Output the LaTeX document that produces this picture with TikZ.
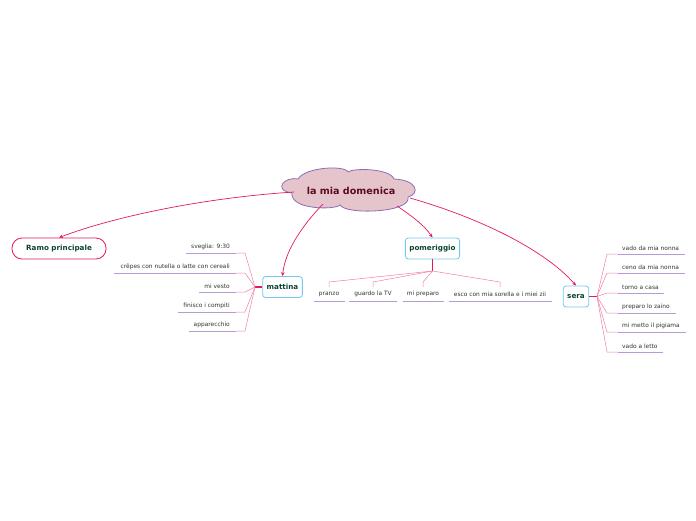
\documentclass[tikz,border=0pt]{standalone}
\usepackage{fontspec}
\setmainfont{DejaVu Sans}
\usetikzlibrary{arrows.meta}
\definecolor{cloudfill}{HTML}{E5C5CB}
\definecolor{cloudborder}{HTML}{8E6DB8}
\definecolor{cloudtext}{HTML}{5A0A22}
\definecolor{mainline}{HTML}{E2195F}
\definecolor{boxborder}{HTML}{72C8EE}
\definecolor{boxtext}{HTML}{0C4434}
\definecolor{subline}{HTML}{F27DA3}
\definecolor{uline}{HTML}{B59CD6}
\tikzset{
  mainarrow/.style={draw=mainline, line width=0.7pt, -{Stealth[length=4pt,width=3.5pt]}},
  topicbox/.style={draw=boxborder, line width=0.8pt, rounded corners=3pt, fill=white,
    text=boxtext, font=\fontsize{7.2}{8}\selectfont\bfseries, inner xsep=4pt, minimum height=21pt},
  itemtext/.style={font=\fontsize{5.9}{6.5}\selectfont, text=black!80, inner sep=1pt},
  subconn/.style={draw=subline, line width=0.5pt},
  stub/.style={draw=mainline, line width=1.6pt},
  underl/.style={draw=uline, line width=1pt},
}
\begin{document}
\begin{tikzpicture}[x=1pt,y=-1pt]
\useasboundingbox (0,0) rectangle (696,520);
% central cloud
\draw[draw=cloudborder, line width=0.8pt, fill=cloudfill]
  (298,179) .. controls (305,167) and (345,165) .. (348,172)
  .. controls (352,168) and (390,168) .. (394,179)
  .. controls (418,180) and (420,194) .. (408,197)
  .. controls (412,213) and (345,215) .. (340,205)
  .. controls (335,210) and (290,210) .. (292,193)
  .. controls (272,190) and (285,176) .. (298,179) -- cycle;
\node[text=cloudtext, font=\fontsize{9.6}{10}\selectfont\bfseries, inner sep=1pt] (root) at (351,191) {la mia domenica};
% topics
\node[draw=mainline, line width=0.8pt, rounded corners=10pt, minimum width=94pt, minimum height=21pt,
  text=boxtext, font=\fontsize{7.2}{8}\selectfont\bfseries] (ramo) at (59,248.5) {Ramo principale};
\node[topicbox] (mat) at (282.5,287) {mattina};
\node[topicbox] (pom) at (432.5,248.5) {pomeriggio};
\node[topicbox] (sera) at (576,296.5) {sera};
% main connectors
\coordinate (r1) at (294,192);
\coordinate (r2) at (323,204);
\coordinate (r3) at (397,206);
\coordinate (r4) at (410,198);
\draw[mainarrow] (r1) .. controls (200,198) and (110,218) .. (ramo.north);
\draw[mainarrow] (r2) .. controls (300,228) and (285,252) .. (mat.north);
\draw[mainarrow] (r3) .. controls (412,216) and (425,226) .. (pom.north);
\draw[mainarrow] (r4) .. controls (480,218) and (545,250) .. (sera.north);

% ---------- mattina ----------
\coordinate (mh) at (255,287);
\draw[stub] (mat.west) -- (mh);
\foreach \n/\t/\y/\ul in {1/{sveglia: 9:30}/253/186, 2/{crêpes con nutella o latte con cereali}/273/114, 3/{mi vesto}/292/199, 4/{finisco i compiti}/312/178, 5/{apparecchio}/331/189}{
  \node[itemtext, anchor=south east] (m\n) at (231,\y-2) {\t};
  \coordinate (mu\n) at (\ul,\y);
  \coordinate (me\n) at (236,\y);
  \coordinate (mk\n) at (245,\y);
  \draw[underl] (mu\n) -- (me\n);
  \draw[subconn] (me\n) -- (mk\n) -- (mh);
}

% ---------- pomeriggio ----------
\coordinate (ph) at (432.5,271);
\draw[stub] (pom.south) -- (ph);
\foreach \n/\t/\x/\a/\b in {1/{pranzo}/329/314/345, 2/{guardo la TV}/373/349/397, 3/{mi preparo}/423/403/444, 4/{esco con mia sorella e i miei zii}/500/449/552}{
  \node[itemtext] (p\n) at (\x,294) {\t};
  \coordinate (pk\n) at (\x,282);
  \coordinate (pt\n) at (\x,287);
  \coordinate (pa\n) at (\a,301);
  \coordinate (pb\n) at (\b,301);
  \draw[underl] (pa\n) -- (pb\n);
  \draw[subconn] (ph) -- (pk\n) -- (pt\n);
}

% ---------- sera ----------
\coordinate (sh) at (597,296.5);
\draw[stub] (sera.east) -- (sh);
\foreach \n/\t/\y/\ue in {1/{vado da mia nonna}/254/685, 2/{ceno da mia nonna}/273/685, 3/{torno a casa}/293/664, 4/{preparo lo zaino}/313/676, 5/{mi metto il pigiama}/332/686, 6/{vado a letto}/352/663}{
  \node[itemtext, anchor=south west] (s\n) at (621,\y-2) {\t};
  \coordinate (sk\n) at (607,\y);
  \coordinate (ss\n) at (618,\y);
  \coordinate (se\n) at (\ue,\y);
  \draw[underl] (ss\n) -- (se\n);
  \draw[subconn] (sh) -- (sk\n) -- (ss\n);
}
\end{tikzpicture}
\end{document}
